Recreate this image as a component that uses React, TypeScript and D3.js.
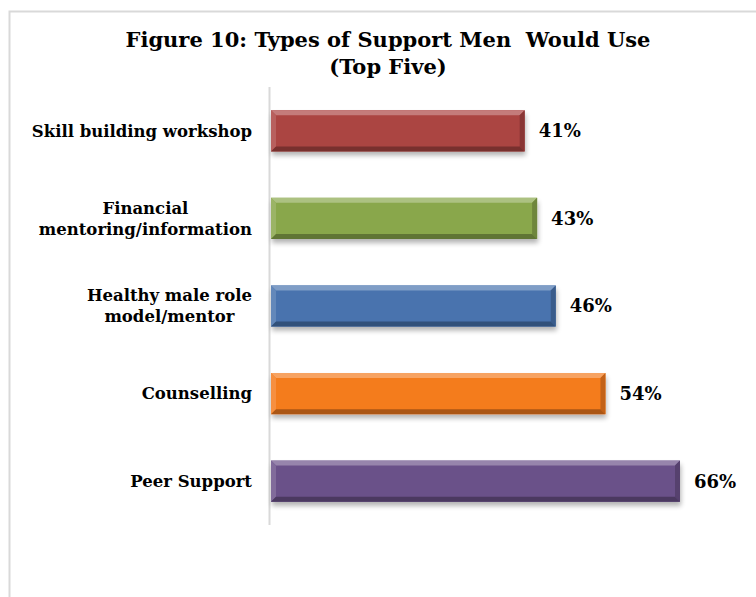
import React, { useLayoutEffect, useRef, useState } from "react";
import * as d3 from "d3";

const categories = [
  ["Skill building workshop"],
  ["Financial", "mentoring/information"],
  ["Healthy male role", "model/mentor"],
  ["Counselling"],
  ["Peer Support"],
];
const values = [41, 43, 46, 54, 66];
const colors = ["#AB4442", "#89A74B", "#4873AE", "#F47B1E", "#6B5189"];
const titleLines = ["Figure 10: Types of Support Men  Would Use", "(Top Five)"];

const W = 756;
const H = 597;
const FONT = "'DejaVu Serif', 'Liberation Serif', serif";

function LabelBlock({ lines, xRight, yCenter }: { lines: string[]; xRight: number; yCenter: number }) {
  const ref = useRef<SVGGElement>(null);
  const [w, setW] = useState(0);
  useLayoutEffect(() => {
    if (!ref.current) return;
    const texts = ref.current.querySelectorAll("text");
    let m = 0;
    texts.forEach((t) => (m = Math.max(m, (t as SVGTextElement).getComputedTextLength())));
    setW(m);
  }, []);
  const lh = 21;
  const y0 = yCenter - ((lines.length - 1) * lh) / 2;
  return (
    <g ref={ref}>
      {lines.map((l, i) => (
        <text
          key={i}
          x={xRight - w / 2}
          y={y0 + i * lh}
          dy="0.35em"
          textAnchor="middle"
          fontFamily={FONT}
          fontWeight="bold"
          fontSize={16.5}
          fill="#000"
        >
          {l}
        </text>
      ))}
    </g>
  );
}

export default function App() {
  const x0 = 270;
  const x = d3.scaleLinear().domain([0, 66]).range([x0, 680]);
  const y = d3
    .scaleBand<number>()
    .domain(d3.range(values.length))
    .range([87, 525])
    .paddingInner(0.53)
    .paddingOuter(0.265);
  const bh = y.bandwidth();
  const bev = 5;

  return (
    <svg width={W} height={H} style={{ position: "absolute", left: 0, top: 0 }}>
      <defs>
        <filter id="sh" x="-5%" y="-30%" width="115%" height="190%">
          <feGaussianBlur in="SourceAlpha" stdDeviation="2.5" />
          <feOffset dx="1" dy="4" result="b" />
          <feComponentTransfer>
            <feFuncA type="linear" slope="0.3" />
          </feComponentTransfer>
          <feMerge>
            <feMergeNode />
            <feMergeNode in="SourceGraphic" />
          </feMerge>
        </filter>
      </defs>
      <rect x={0} y={0} width={W} height={H} fill="#fff" />
      <path d={`M9.5,${H} L9.5,11.5 L${W},11.5`} fill="none" stroke="#d9d9d9" strokeWidth={2} />
      {titleLines.map((t, i) => (
        <text
          key={i}
          x={388}
          y={47 + i * 27}
          textAnchor="middle"
          fontFamily={FONT}
          fontWeight="bold"
          fontSize={21}
          fill="#000"
          style={{ whiteSpace: "pre" }}
        >
          {t}
        </text>
      ))}
      <line x1={269.5} x2={269.5} y1={87} y2={525} stroke="#d9d9d9" strokeWidth={2} />
      {values.map((v, i) => {
        const top = y(i)!;
        const x1 = x0 + 1;
        const x2 = x(v);
        const light = d3.interpolateRgb(colors[i], "#fff")(0.3);
        const dark = d3.interpolateRgb(colors[i], "#000")(0.3);
        const bot = top + bh;
        return (
          <g key={i}>
            <g filter="url(#sh)">
              <rect x={x1} y={top} width={x2 - x1} height={bh} fill={colors[i]} />
            </g>
            <path d={`M${x1},${top} L${x2},${top} L${x2 - bev},${top + bev} L${x1 + bev},${top + bev} Z`} fill={light} />
            <path d={`M${x1},${top} L${x1 + bev},${top + bev} L${x1 + bev},${bot - bev} L${x1},${bot} Z`} fill={d3.interpolateRgb(colors[i], "#fff")(0.15)} />
            <path d={`M${x2},${top} L${x2},${bot} L${x2 - bev},${bot - bev} L${x2 - bev},${top + bev} Z`} fill={d3.interpolateRgb(colors[i], "#000")(0.2)} />
            <path d={`M${x1},${bot} L${x2},${bot} L${x2 - bev},${bot - bev} L${x1 + bev},${bot - bev} Z`} fill={dark} />
            <text
              x={x2 + 14}
              y={top + bh / 2}
              dy="0.35em"
              fontFamily={FONT}
              fontWeight="bold"
              fontSize={18}
              fill="#000"
            >
              {v}%
            </text>
            <LabelBlock lines={categories[i]} xRight={252} yCenter={top + bh / 2} />
          </g>
        );
      })}
    </svg>
  );
}
